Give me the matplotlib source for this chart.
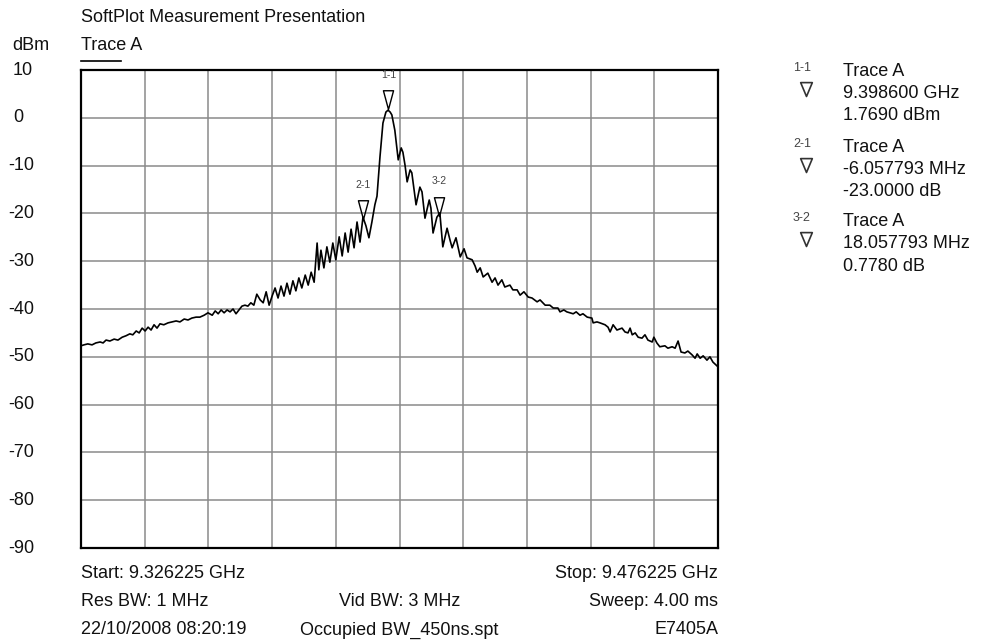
import numpy as np
import matplotlib.pyplot as plt
from matplotlib.path import Path
from matplotlib.lines import Line2D
import matplotlib.transforms as mtransforms

plt.rcParams['font.family'] = ['Liberation Sans', 'DejaVu Sans']

#=========================================================================================
# data read off the screen shot

start_ghz = 9.326225
stop_ghz = 9.476225

# trace A: offset from start in MHz, level in dBm
offset_mhz = [
    0.0, 0.7, 1.6, 2.6, 3.5, 4.5, 5.2, 5.9, 6.8, 7.8, 8.7, 9.7, 10.6, 11.5, 12.2,
    13.0, 13.7, 14.4, 15.1, 15.8, 16.5, 17.2, 17.9, 18.6, 19.5, 20.5, 21.4, 22.4,
    23.3, 24.3, 25.2, 26.1, 27.1, 28.0, 29.0, 29.9, 30.9, 31.6, 32.3, 33.0, 33.7,
    34.4, 35.1, 35.8, 36.5, 37.2, 37.9, 38.6, 39.3, 40.0, 40.7, 41.4, 42.2, 42.9,
    43.6, 44.3, 45.0, 45.7, 46.4, 47.1, 47.8, 48.5, 49.2, 49.9, 50.6, 51.3, 52.0,
    52.8, 53.5, 54.2, 54.9, 55.6, 56.0, 56.5, 57.2, 57.9, 58.6, 59.3, 60.0, 60.8,
    61.5, 62.2, 62.9, 63.6, 64.3, 65.0, 65.7, 66.4, 67.1, 67.8, 68.5, 69.2, 69.7,
    70.4, 71.1, 71.8, 72.3, 72.8, 73.2, 73.9, 74.7, 75.4, 75.8, 76.3, 76.8, 77.5,
    77.9, 78.9, 79.8, 80.3, 81.0, 82.0, 82.4, 82.9, 83.8, 84.5, 85.2, 86.2, 86.9,
    87.4, 88.3, 89.3, 90.2, 90.9, 92.1, 92.8, 93.3, 94.0, 94.7, 95.8, 96.8, 97.5,
    98.2, 99.1, 99.8, 101.0, 101.7, 102.7, 103.4, 104.3, 105.3, 106.2, 107.4, 108.1,
    109.3, 110.4, 111.2, 112.3, 112.8, 113.7, 114.4, 115.9, 116.6, 117.5, 118.2,
    119.2, 120.3, 120.6, 121.5, 122.2, 123.4, 124.1, 124.6, 125.3, 126.2, 127.4,
    128.1, 128.8, 129.3, 129.8, 130.5, 131.2, 132.1, 132.8, 133.5, 134.5, 134.9,
    135.6, 136.3, 137.5, 138.2, 139.2, 139.9, 140.6, 141.3, 142.2, 142.9, 143.9,
    144.6, 145.1, 145.8, 146.5, 147.4, 148.1, 148.8, 149.5, 150.0]
level_dbm = [
    -47.7, -47.5, -47.3, -47.5, -47.1, -46.9, -47.1, -46.5, -46.7, -46.3, -46.5, -45.9, -45.6, -45.2, -45.4,
    -44.6, -45.0, -44.0, -44.6, -43.8, -44.4, -43.3, -44.0, -43.1, -43.3, -42.9, -42.7, -42.5,
    -42.7, -42.1, -42.3, -41.9, -41.7, -41.7, -41.3, -40.8, -41.3, -40.4, -41.0, -40.2, -40.8,
    -40.2, -40.6, -40.0, -41.0, -40.2, -39.4, -39.2, -39.4, -38.7, -39.2, -36.9, -38.1, -38.7,
    -36.4, -39.2, -37.3, -35.6, -37.7, -35.2, -37.3, -34.6, -36.9, -34.1, -36.2, -33.5, -35.6,
    -32.9, -35.0, -32.3, -34.4, -26.2, -31.8, -27.7, -31.4, -27.0, -30.2, -26.2, -29.7, -24.9,
    -28.9, -24.1, -28.1, -23.3, -27.2, -21.8, -26.0, -20.8, -22.6, -25.1, -21.8, -18.2, -16.4,
    -8.2, -1.1, 1.2, 1.6, 1.2, 0.6, -2.6, -8.8, -6.3, -7.2, -9.9, -13.4, -10.9,
    -11.5, -18.2, -14.5, -15.5, -21.0, -17.2, -18.9, -24.1, -20.8, -19.9, -27.0, -23.1, -25.6,
    -27.2, -25.1, -29.1, -27.4, -29.3, -29.7, -31.0, -32.3, -31.4, -33.3, -32.5, -34.4, -33.5,
    -35.0, -33.9, -35.4, -35.0, -36.0, -36.0, -37.1, -36.4, -37.5, -37.7, -38.5, -38.1,
    -39.2, -39.2, -39.8, -39.8, -40.6, -40.2, -40.6, -41.0, -40.6, -41.3, -41.0,
    -41.7, -41.9, -42.9, -42.7, -42.9, -43.3, -43.8, -44.8, -43.3, -44.4, -44.0,
    -44.8, -45.0, -44.0, -45.4, -45.0, -45.9, -46.1, -45.4, -46.5, -46.9, -45.9,
    -47.1, -47.9, -47.7, -48.2, -47.9, -48.2, -46.7, -49.0, -49.2, -48.8, -49.6,
    -50.3, -49.4, -50.3, -49.8, -50.7, -50.0, -51.1, -51.7, -52.1]

# marker readouts
marker_names = ['1-1', '2-1', '3-2']
marker_text = [['9.398600 GHz', '1.7690 dBm'],
               ['-6.057793 MHz', '-23.0000 dB'],
               ['18.057793 MHz', '0.7780 dB']]
m1_ghz = 9.398600
m1_dbm = 1.769
marker_freq = [m1_ghz, m1_ghz - 0.006057793, m1_ghz - 0.006057793 + 0.018057793]
marker_dbm = [m1_dbm, m1_dbm - 23.0, m1_dbm - 23.0 + 0.778]

y_ticks = list(range(-90, 11, 10))

bottom_left = ['Start: 9.326225 GHz', 'Res BW: 1 MHz', '22/10/2008 08:20:19']
bottom_mid = ['', 'Vid BW: 3 MHz', 'Occupied BW_450ns.spt']
bottom_right = ['Stop: 9.476225 GHz', 'Sweep: 4.00 ms', 'E7405A']

#=========================================================================================

W, H = 981, 644
def fx(px):
    return px / W
def fy(py):
    return 1 - py / H

fig = plt.figure(figsize=(W / 100, H / 100), dpi=100)
ax = fig.add_axes([fx(81), fy(548), 637 / W, 478 / H])

freq_ghz = start_ghz + np.array(offset_mhz) / 1000.0
ax.plot(freq_ghz, level_dbm, color='black', lw=1.2, zorder=3)

# open triangle marker, apex on the point
tri = Path([(-0.27, 1.0), (0.27, 1.0), (0.0, 0.0), (-0.27, 1.0)],
           [Path.MOVETO, Path.LINETO, Path.LINETO, Path.CLOSEPOLY])
tri_wide = Path([(-0.42, 1.0), (0.42, 1.0), (0.0, 0.0), (-0.42, 1.0)],
                [Path.MOVETO, Path.LINETO, Path.LINETO, Path.CLOSEPOLY])
ax.plot(marker_freq, marker_dbm, ls='none', marker=tri, ms=27, mfc='none',
        mec='black', mew=1.0, zorder=4)
for name, f, d in zip(marker_names, marker_freq, marker_dbm):
    ax.annotate(name, (f, d), xytext=(0, 25), textcoords='offset points',
                ha='center', va='center', fontsize=7.5, color='#444444')

ax.set_xlim(start_ghz, stop_ghz)
ax.set_ylim(-90, 10)
ax.set_xticks(np.linspace(start_ghz, stop_ghz, 11))
ax.set_yticks(y_ticks)
ax.tick_params(length=0, labelleft=False, labelbottom=False)
ax.grid(True, color='#8a8a8a', lw=1.1)
for s in ax.spines.values():
    s.set_color('black')
    s.set_linewidth(1.6)

# y labels at the page edge
trans = mtransforms.blended_transform_factory(fig.transFigure, ax.transData)
for v in y_ticks:
    xpos = 13 if v >= 0 else 8.5
    ax.text(fx(xpos), v, str(v), transform=trans, ha='left', va='center',
            fontsize=13, color='#111111')

fig.text(fx(81), fy(17), 'SoftPlot Measurement Presentation', ha='left', va='center', fontsize=13, color='#111111')
fig.text(fx(12), fy(45), 'dBm', ha='left', va='center', fontsize=13, color='#111111')
fig.text(fx(81), fy(45), 'Trace A', ha='left', va='center', fontsize=13, color='#111111')
fig.add_artist(Line2D([fx(81), fx(121)], [fy(61), fy(61)], color='black', lw=1.2))

rows = [573, 602, 630]
for i in range(3):
    fig.text(fx(81), fy(rows[i]), bottom_left[i], ha='left', va='center', fontsize=13, color='#111111')
    fig.text(fx(399.5), fy(rows[i]), bottom_mid[i], ha='center', va='center', fontsize=13, color='#111111')
    fig.text(fx(718), fy(rows[i]), bottom_right[i], ha='right', va='center', fontsize=13, color='#111111')

# marker readout panel on the right
group_y = [71, 147, 221]
for name, lines, gy in zip(marker_names, marker_text, group_y):
    fig.text(fx(793), fy(gy - 3), name, ha='left', va='center', fontsize=9, color='#444444')
    fig.text(fx(843), fy(gy), 'Trace A', ha='left', va='center', fontsize=13, color='#111111')
    fig.text(fx(843), fy(gy + 23), lines[0], ha='left', va='center', fontsize=13, color='#111111')
    fig.text(fx(843), fy(gy + 45), lines[1], ha='left', va='center', fontsize=13, color='#111111')
    fig.add_artist(Line2D([fx(806)], [fy(gy + 25)], ls='none', marker=tri_wide, ms=20,
                          mfc='none', mec='#333333', mew=1.2))

fig.savefig('out.png', dpi=100)
